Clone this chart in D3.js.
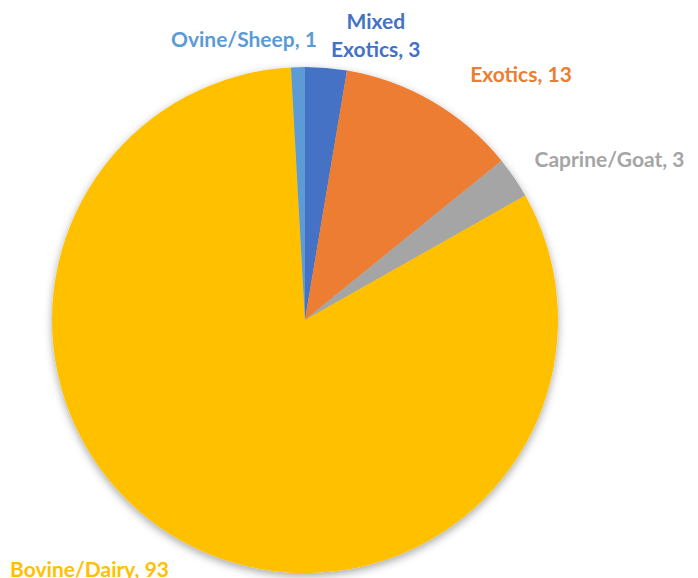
<!DOCTYPE html>
<html>
<head>
<meta charset="utf-8">
<script src="https://cdn.jsdelivr.net/npm/d3@7"></script>
<style>
  html, body { margin: 0; padding: 0; background: #fff; }
  svg { display: block; }
</style>
</head>
<body>
<div id="chart"></div>
<script>
// Herd composition by species group
const categories = ["Mixed Exotics", "Exotics", "Caprine/Goat", "Bovine/Dairy", "Ovine/Sheep"];
const values = [3, 13, 3, 93, 1];
const labelText = ["Mixed\nExotics, 3", "Exotics, 13", "Caprine/Goat, 3", "Bovine/Dairy, 93", "Ovine/Sheep, 1"];
const colors = ["#4472C4", "#ED7D31", "#A5A5A5", "#FFC000", "#5B9BD5"];

// Label layout: angular nudge (degrees) from slice mid-angle and radial distance as a fraction of the radius
const labelLayout = [
  { dAngle: 9.2, k: 1.158 },
  { dAngle: 11.1, k: 1.292 },
  { dAngle: 6.5, k: 1.36 },
  { dAngle: 12.1, k: 1.304 },
  { dAngle: -10.7, k: 1.134 }
];

const width = 698, height = 578;
const cx = 305, cy = 320, radius = 253;
const fontSize = 21, lineHeight = 28;

const svg = d3.select("#chart").append("svg")
  .attr("width", width).attr("height", height);

const defs = svg.append("defs");
const shadow = defs.append("filter").attr("id", "pieShadow")
  .attr("x", "-20%").attr("y", "-20%").attr("width", "140%").attr("height", "140%");
shadow.append("feDropShadow")
  .attr("dx", 0).attr("dy", 3).attr("stdDeviation", 4)
  .attr("flood-color", "#000").attr("flood-opacity", 0.35);

const data = categories.map((c, i) => ({ category: c, value: values[i], color: colors[i], label: labelText[i], layout: labelLayout[i] }));

const pie = d3.pie().value(d => d.value).sort(null);
const arc = d3.arc().innerRadius(0).outerRadius(radius);
const arcs = pie(data);

const g = svg.append("g").attr("transform", `translate(${cx},${cy})`);

g.append("g").attr("filter", "url(#pieShadow)")
  .selectAll("path").data(arcs).join("path")
  .attr("d", arc)
  .attr("fill", d => d.data.color);

// Data labels outside the pie, coloured like their slices
g.append("g").selectAll("text").data(arcs).join("text")
  .attr("text-anchor", "middle")
  .attr("font-family", "Lato, 'Open Sans', sans-serif")
  .attr("font-weight", "bold")
  .attr("font-size", fontSize)
  .attr("fill", d => d.data.color)
  .each(function(d) {
    const mid = (d.startAngle + d.endAngle) / 2 + d.data.layout.dAngle * Math.PI / 180;
    const r = radius * d.data.layout.k;
    const x = r * Math.sin(mid);
    const y = -r * Math.cos(mid);
    const lines = d.data.label.split("\n");
    const t = d3.select(this);
    lines.forEach((ln, i) => {
      t.append("tspan")
        .attr("x", x)
        .attr("y", y + (i - (lines.length - 1) / 2) * lineHeight + 7.5)
        .text(ln);
    });
  });
</script>
</body>
</html>
